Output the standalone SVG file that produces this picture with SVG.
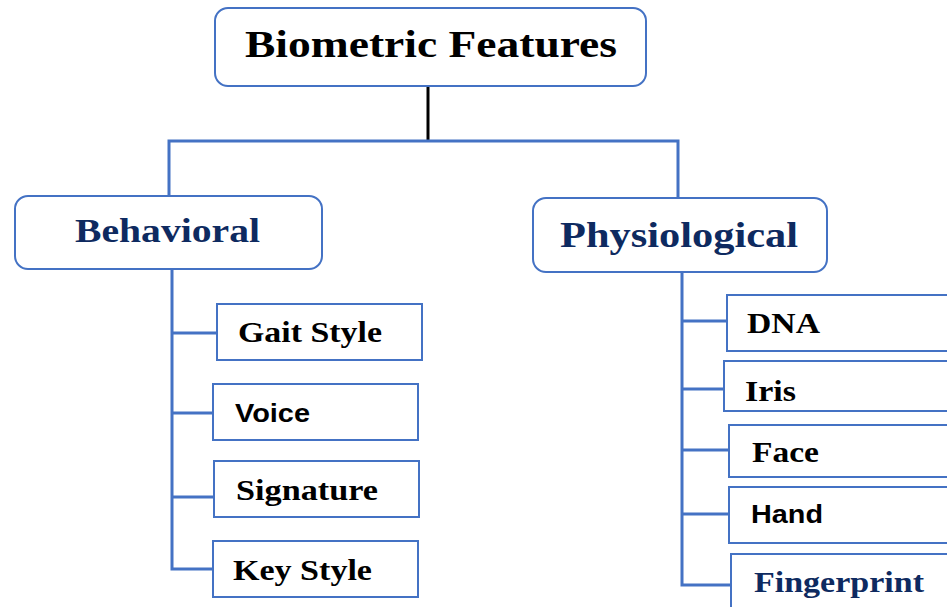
<svg xmlns="http://www.w3.org/2000/svg" width="947" height="607" viewBox="0 0 947 607">
<style>
.rbox{fill:#fff;stroke:#4472c4;stroke-width:2}
.box{fill:#fff;stroke:#4472c4;stroke-width:2}
.conn{stroke:#4472c4;stroke-width:3;fill:none}
.serif{font-family:"Liberation Serif","Times New Roman",serif;font-weight:bold;fill:#000}
.sans{font-family:"Liberation Sans",Arial,sans-serif;font-weight:bold;fill:#000}
.navy{fill:#0e2a60}
</style>
<rect width="947" height="607" fill="#fff"/>
<g id="connectors">
<line x1="428" y1="86" x2="428" y2="141" stroke="#000" stroke-width="3"/>
<polyline class="conn" points="169,197 169,141 678,141 678,198"/>
<polyline class="conn" points="172,269 172,569 213,569"/>
<line class="conn" x1="172" y1="333" x2="217" y2="333"/>
<line class="conn" x1="172" y1="413" x2="213" y2="413"/>
<line class="conn" x1="172" y1="497" x2="214" y2="497"/>
<polyline class="conn" points="682,272 682,585 731,585"/>
<line class="conn" x1="682" y1="321" x2="727" y2="321"/>
<line class="conn" x1="682" y1="389" x2="724" y2="389"/>
<line class="conn" x1="682" y1="450" x2="729" y2="450"/>
<line class="conn" x1="682" y1="514" x2="729" y2="514"/>
</g>
<g id="biometric">
<rect class="rbox" x="215" y="8" width="431" height="78" rx="13"/>
<text class="serif" x="245" y="57" font-size="38" textLength="372" lengthAdjust="spacingAndGlyphs">Biometric Features</text>
</g>
<g id="behavioral">
<rect class="rbox" x="15" y="196" width="307" height="73" rx="13"/>
<text class="serif navy" x="75" y="242" font-size="34" textLength="185" lengthAdjust="spacingAndGlyphs">Behavioral</text>
</g>
<g id="physiological">
<rect class="rbox" x="533" y="198" width="294" height="74" rx="13"/>
<text class="serif navy" x="560" y="247" font-size="36" textLength="238" lengthAdjust="spacingAndGlyphs">Physiological</text>
</g>
<g id="gait">
<rect class="box" x="217" y="304" width="205" height="56"/>
<text class="serif" x="238" y="342" font-size="29" textLength="144" lengthAdjust="spacingAndGlyphs">Gait Style</text>
</g>
<g id="voice">
<rect class="box" x="213" y="384" width="205" height="56"/>
<text class="sans" x="235" y="422" font-size="26" textLength="75" lengthAdjust="spacingAndGlyphs">Voice</text>
</g>
<g id="signature">
<rect class="box" x="214" y="461" width="205" height="56"/>
<text class="serif" x="236" y="500" font-size="29" textLength="142" lengthAdjust="spacingAndGlyphs">Signature</text>
</g>
<g id="keystyle">
<rect class="box" x="213" y="541" width="205" height="56"/>
<text class="serif" x="233" y="580" font-size="29" textLength="139" lengthAdjust="spacingAndGlyphs">Key Style</text>
</g>
<g id="dna">
<rect class="box" x="727" y="295" width="240" height="56"/>
<text class="serif" x="747" y="333" font-size="29" textLength="73" lengthAdjust="spacingAndGlyphs">DNA</text>
</g>
<g id="iris">
<rect class="box" x="724" y="361" width="240" height="50"/>
<text class="serif" x="745" y="401" font-size="29" textLength="51" lengthAdjust="spacingAndGlyphs">Iris</text>
</g>
<g id="face">
<rect class="box" x="729" y="425" width="240" height="52"/>
<text class="serif" x="752" y="462" font-size="29" textLength="67" lengthAdjust="spacingAndGlyphs">Face</text>
</g>
<g id="hand">
<rect class="box" x="729" y="487" width="240" height="56"/>
<text class="sans" x="751" y="523" font-size="26" textLength="72" lengthAdjust="spacingAndGlyphs">Hand</text>
</g>
<g id="fingerprint">
<rect class="box" x="731" y="554" width="240" height="70"/>
<text class="serif navy" x="754" y="592" font-size="29" textLength="170" lengthAdjust="spacingAndGlyphs">Fingerprint</text>
</g>
</svg>
